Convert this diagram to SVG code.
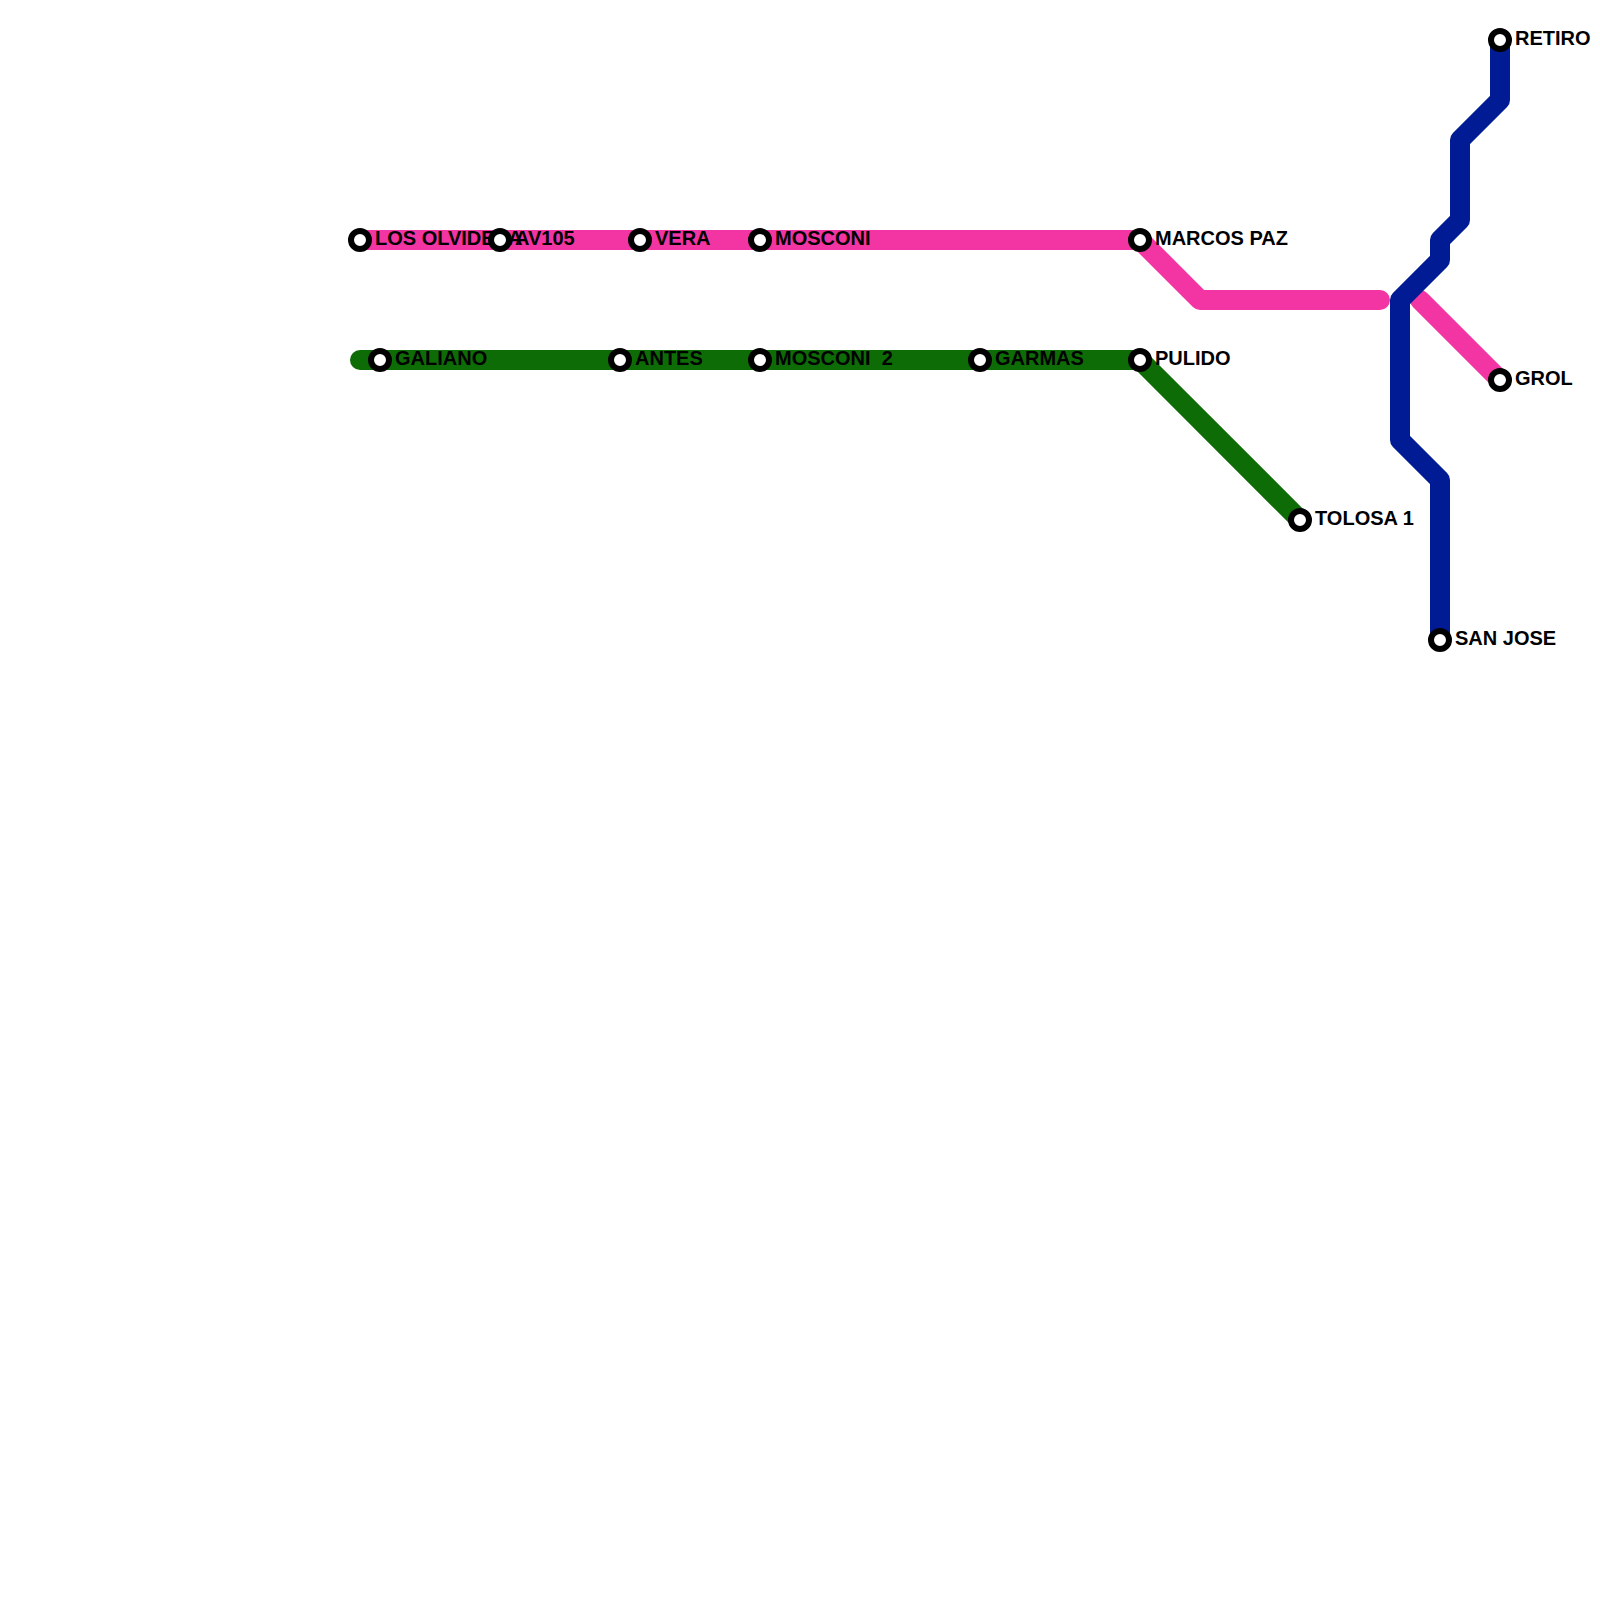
<svg xmlns="http://www.w3.org/2000/svg" width="1600" height="1600" viewBox="0 0 1600 1600">
<style>
.l{fill:none;stroke-width:20;stroke-linecap:round;stroke-linejoin:round}
.s{fill:#fff;stroke:#000;stroke-width:6}
text{font-family:"Liberation Sans",Arial,sans-serif;font-weight:700;font-size:20px;fill:#000;white-space:pre}
</style>
<rect width="1600" height="1600" fill="#fff"/>
<g id="connectors">
<path class="l" stroke="#f334a3" d="M360 240H1140L1200 300H1380M1420 300L1500 380"/>
<path class="l" stroke="#0e6c06" d="M360 360H1140L1300 520"/>
<path class="l" stroke="#001b94" d="M1500 40V100L1460 140V220L1440 240V260L1400 300V440L1440 480V640"/>
</g>
<g id="n1"><text x="375" y="245">LOS OLVIDESA</text><circle class="s" cx="360" cy="240" r="9"/></g>
<g id="n2"><circle class="s" cx="500" cy="240" r="9"/><text x="515" y="245">AV105</text></g>
<g id="n3"><circle class="s" cx="640" cy="240" r="9"/><text x="655" y="245">VERA</text></g>
<g id="n4"><circle class="s" cx="760" cy="240" r="9"/><text x="775" y="245">MOSCONI</text></g>
<g id="n5"><circle class="s" cx="1140" cy="240" r="9"/><text x="1155" y="245">MARCOS PAZ</text></g>
<g id="n6"><circle class="s" cx="380" cy="360" r="9"/><text x="395" y="365">GALIANO</text></g>
<g id="n7"><circle class="s" cx="620" cy="360" r="9"/><text x="635" y="365">ANTES</text></g>
<g id="n8"><circle class="s" cx="760" cy="360" r="9"/><text x="775" y="365">MOSCONI  2</text></g>
<g id="n9"><circle class="s" cx="980" cy="360" r="9"/><text x="995" y="365">GARMAS</text></g>
<g id="n10"><circle class="s" cx="1140" cy="360" r="9"/><text x="1155" y="365">PULIDO</text></g>
<g id="n11"><circle class="s" cx="1300" cy="520" r="9"/><text x="1315" y="525">TOLOSA 1</text></g>
<g id="n12"><circle class="s" cx="1500" cy="40" r="9"/><text x="1515" y="45">RETIRO</text></g>
<g id="n13"><circle class="s" cx="1500" cy="380" r="9"/><text x="1515" y="385">GROL</text></g>
<g id="n14"><circle class="s" cx="1440" cy="640" r="9"/><text x="1455" y="645">SAN JOSE</text></g>
</svg>
